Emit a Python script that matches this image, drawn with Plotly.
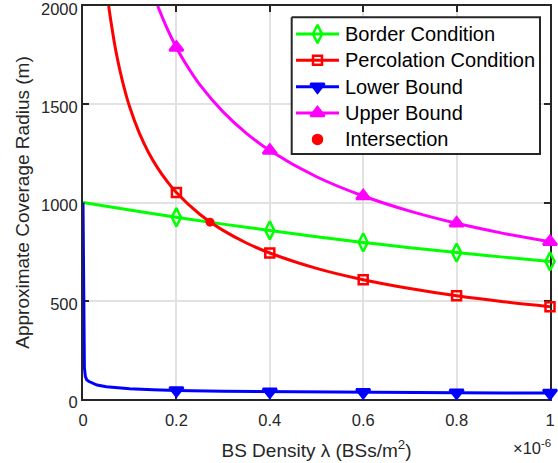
import plotly.graph_objects as go

# BS density lambda, in units of 1e-6 BSs/m^2, and coverage radius in metres
border_x = [0, 0.1, 0.2, 0.3, 0.4, 0.5, 0.6, 0.7, 0.8, 0.9, 1.0]
border_y = [1000, 962, 925, 890, 858, 826, 797, 770, 745, 722, 700]

perc_x = [0.055, 0.06, 0.07, 0.08, 0.09, 0.1, 0.12, 0.14, 0.16, 0.18, 0.2,
          0.25, 0.3, 0.35, 0.4, 0.5, 0.6, 0.7, 0.8, 0.9, 1.0]
perc_y = [2000, 1919, 1776, 1662, 1567, 1486, 1357, 1256, 1175, 1108, 1051,
          940, 858, 794, 743, 665, 607, 562, 525, 495, 470]

lower_x = [0, 0.001, 0.002, 0.003, 0.005, 0.008, 0.012, 0.02, 0.03, 0.05,
           0.075, 0.1, 0.15, 0.2, 0.3, 0.4, 0.5, 0.6, 0.7, 0.8, 0.9, 1.0]
lower_y = [1000, 500, 250, 160, 115, 98, 90, 80, 71, 62,
           56, 52, 47, 43, 39, 37, 35, 34, 33, 32, 31, 30]

upper_x = [0.16, 0.18, 0.2, 0.22, 0.25, 0.3, 0.35, 0.4, 0.5, 0.6, 0.7, 0.8, 0.9, 1.0]
upper_y = [2000, 1886, 1789, 1706, 1600, 1461, 1352, 1265, 1131, 1033, 956, 894, 843, 800]

intersect_x = [0.272]
intersect_y = [900]

marker_at = [0.2, 0.4, 0.6, 0.8, 1.0]

x_ticks = [0, 0.2, 0.4, 0.6, 0.8, 1.0]
x_ticktext = ["0", "0.2", "0.4", "0.6", "0.8", "1"]
y_ticks = [0, 500, 1000, 1500, 2000]

FONT = "Liberation Sans, Arial, Helvetica, sans-serif"
AXIS_COLOR = "#262626"

# name, x, y, colour, marker symbol, marker size, line shape
series = [
    ("Border Condition", border_x, border_y, "#00ff00", "diamond-tall-open", 13, "spline"),
    ("Percolation Condition", perc_x, perc_y, "#ff0000", "square-open", 9, "spline"),
    ("Lower Bound", lower_x, lower_y, "#0000ff", "triangle-down", 12, "linear"),
    ("Upper Bound", upper_x, upper_y, "#ff00ff", "triangle-up", 12, "spline"),
]
intersect_style = ("Intersection", "#ff0000", "circle", 9)

fig = go.Figure()

for name, xs, ys, color, symbol, size, shape in series:
    lookup = dict(zip(xs, ys))
    mx = [v for v in marker_at if v in lookup]
    my = [lookup[v] for v in mx]
    fig.add_trace(go.Scatter(
        x=xs, y=ys, mode="lines", showlegend=False, cliponaxis=False,
        line=dict(color=color, width=3, shape=shape), hoverinfo="skip"))
    fig.add_trace(go.Scatter(
        x=mx, y=my, mode="markers", showlegend=False, cliponaxis=False,
        marker=dict(symbol=symbol, size=size, color=color,
                    line=dict(color=color, width=2.5))))

fig.add_trace(go.Scatter(
    x=intersect_x, y=intersect_y, mode="markers", showlegend=False,
    cliponaxis=False,
    marker=dict(symbol=intersect_style[2], size=intersect_style[3],
                color=intersect_style[1])))

# ---- boxed legend drawn on a hidden pixel-unit overlay (x2/y2) ----
PLOT_L, PLOT_R, PLOT_T, PLOT_B = 83, 550, 6, 399
box_l, box_r, box_t, box_b = 291.7, 540, 17.3, 154
row_y0, row_dy = 34, 26.35
sample_x0, sample_x1, text_x = 296, 339, 343

fig.add_trace(go.Scatter(
    x=[box_l, box_r, box_r, box_l, box_l], y=[box_t, box_t, box_b, box_b, box_t],
    xaxis="x2", yaxis="y2", mode="lines", fill="toself", fillcolor="white",
    line=dict(color=AXIS_COLOR, width=2), showlegend=False, hoverinfo="skip",
    cliponaxis=False))

entries = [(s[0], s[3], s[4], s[5], True) for s in series]
entries.append((intersect_style[0], intersect_style[1], intersect_style[2],
                intersect_style[3], False))

for i, (name, color, symbol, size, has_line) in enumerate(entries):
    ry = row_y0 + i * row_dy
    if has_line:
        fig.add_trace(go.Scatter(
            x=[sample_x0, sample_x1], y=[ry, ry], xaxis="x2", yaxis="y2",
            mode="lines", line=dict(color=color, width=3),
            showlegend=False, hoverinfo="skip", cliponaxis=False))
    fig.add_trace(go.Scatter(
        x=[(sample_x0 + sample_x1) / 2], y=[ry], xaxis="x2", yaxis="y2",
        mode="markers", showlegend=False, hoverinfo="skip", cliponaxis=False,
        marker=dict(symbol=symbol, size=size, color=color,
                    line=dict(color=color, width=2.5))))
    fig.add_annotation(
        x=text_x, y=ry, xref="x2", yref="y2", xanchor="left", yanchor="middle",
        text=name, showarrow=False,
        font=dict(family=FONT, size=20, color="#000000"))

axis_common = dict(
    showline=True, linecolor=AXIS_COLOR, linewidth=2, mirror="ticks",
    ticks="inside", ticklen=6, tickwidth=2, tickcolor=AXIS_COLOR,
    showgrid=True, gridcolor="#e2e2e2", gridwidth=2, zeroline=False,
    tickfont=dict(family=FONT, size=16.5, color=AXIS_COLOR),
    ticklabeloverflow="allow", automargin=False,
    layer="below traces",
)

fig.update_layout(
    xaxis=dict(
        range=[0, 1], tickvals=x_ticks, ticktext=x_ticktext, ticklabelstandoff=5,
        title=dict(text="BS Density λ (BSs/m<sup>2</sup>)",
                   font=dict(family=FONT, size=19, color=AXIS_COLOR), standoff=16),
        **axis_common),
    yaxis=dict(
        range=[0, 2000], tickvals=y_ticks, ticklabelshift=3,
        title=dict(text="Approximate Coverage Radius (m)",
                   font=dict(family=FONT, size=19, color=AXIS_COLOR), standoff=6),
        **axis_common),
    xaxis2=dict(range=[PLOT_L, PLOT_R], overlaying="x", visible=False,
                fixedrange=True),
    yaxis2=dict(range=[PLOT_B, PLOT_T], overlaying="y", visible=False,
                fixedrange=True),
)

# axis exponent under the right end of the x axis
fig.add_annotation(
    x=1.0, xref="paper", xanchor="right", xshift=3,
    y=-(447 - PLOT_B) / (PLOT_B - PLOT_T), yref="paper", yanchor="middle",
    text="×10<sup>-6</sup>", showarrow=False,
    font=dict(family=FONT, size=16.5, color=AXIS_COLOR))

fig.update_layout(
    width=558, height=463,
    margin=dict(l=PLOT_L, r=558 - PLOT_R, t=PLOT_T, b=463 - PLOT_B,
                autoexpand=False),
    paper_bgcolor="white", plot_bgcolor="white",
    font=dict(family=FONT, color="#000000"),
    showlegend=False,
)

fig.write_html("out.html")
